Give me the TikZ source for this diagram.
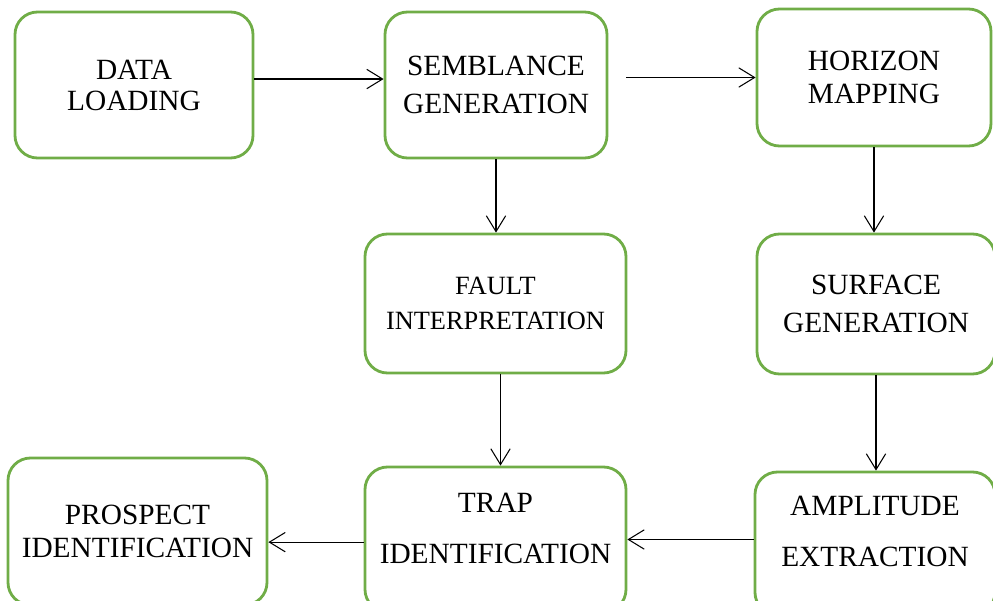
\documentclass[tikz,border=0pt]{standalone}
\usepackage{fontspec}
\setmainfont{Liberation Serif}
\usepackage{tikz}
\usetikzlibrary{arrows.meta}
\definecolor{vert}{RGB}{112,173,71}

\begin{document}
\begin{tikzpicture}[>={Straight Barb[length=9pt,width=11pt]},
boite/.style={draw=vert, line width=1.6pt, rounded corners=0.45cm, align=center, inner sep=0pt,
  font=\fontsize{16.7}{19}\selectfont},
fleche/.style={->, line width=0.6pt}]
\path[use as bounding box, clip] (0,0) rectangle (19.86,12);

\node[boite, minimum width=4.76cm, minimum height=2.92cm] (data) at (2.68,10.30) {DATA\\[-1.4pt]LOADING};
\node[boite, minimum width=4.44cm, minimum height=2.92cm] (semb) at (9.92,10.30) {SEMBLANCE\\[2.5pt]GENERATION};
\node[boite, minimum width=4.68cm, minimum height=2.74cm] (hori) at (17.48,10.45) {HORIZON\\MAPPING};
\node[boite, minimum width=5.22cm, minimum height=2.78cm, font=\fontsize{15}{19}\selectfont] (faul) at (9.91,5.93) {FAULT\\[1pt]INTERPRETATION};
\node[boite, minimum width=4.76cm, minimum height=2.80cm] (surf) at (17.52,5.92) {SURFACE\\[2.5pt]GENERATION};
\node[boite, minimum width=5.18cm, minimum height=2.94cm] (pros) at (2.75,1.37) {PROSPECT\\IDENTIFICATION};
\node[boite, minimum width=5.22cm, minimum height=2.90cm, text depth=12.5pt] (trap) at (9.91,1.21) {TRAP\\[10pt]IDENTIFICATION};
\node[boite, minimum width=4.80cm, minimum height=2.86cm, text depth=13.6pt] (ampl) at (17.50,1.13) {AMPLITUDE\\[10pt]EXTRACTION};

\draw[fleche] ([yshift=3.4pt]data.east) -- ([yshift=3.4pt]semb.west);
\draw[fleche] ([xshift=0.36cm]semb.east |- hori.west) -- (hori.west);
\draw[fleche] (semb.south) -- (semb.south |- faul.north);
\draw[fleche] (hori.south) -- (hori.south |- surf.north);
\draw[fleche] ([xshift=0.1cm]faul.south) -- ([xshift=0.1cm]faul.south |- trap.north);
\draw[fleche] (surf.south) -- (surf.south |- ampl.north);
\draw[fleche] (ampl.west |- trap.east) -- (trap.east);
\draw[fleche] ([yshift=-1.5pt]trap.west) -- ([yshift=-1.5pt]trap.west -| pros.east);

\end{tikzpicture}
\end{document}
